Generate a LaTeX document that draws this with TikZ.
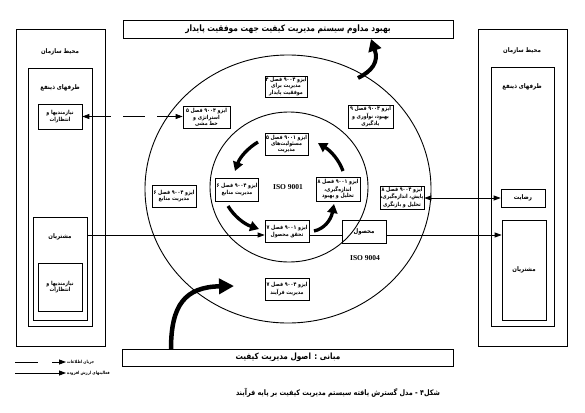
\documentclass[tikz,border=0pt]{standalone}
\usepackage{fontspec}
\setmainfont{Liberation Serif}
\newfontfamily\fafont[Script=Arabic, FakeStretch=0.85]{DejaVu Sans}
\TeXXeTstate=1
\usetikzlibrary{arrows.meta,shapes.geometric}
\newcommand\fat[1]{{\fafont\bfseries\beginR #1\endR}}
\begin{document}
\begin{tikzpicture}[x=1pt,y=-1pt,
 box/.style={draw, line width=0.7pt, inner sep=0pt, align=center, font=\fontsize{5.6}{6.3}\selectfont},
 frame/.style={draw, line width=0.9pt, inner sep=0pt},
 lbl/.style={inner sep=0pt, font=\fontsize{6.4}{7.5}\selectfont},
 flow/.style={line width=0.8pt, -{Triangle[length=7pt,width=5pt]}},
 cyc/.style={line width=3.3pt, -{Triangle[length=9pt,width=10pt]}},
 ring/.style={draw, ellipse, line width=0.9pt, inner sep=0pt},
]
\useasboundingbox (0,0) rectangle (585,412);
\fill[white] (0,0) rectangle (585,412);

% rings
\node[ring, minimum width=286pt, minimum height=268pt] (outerE) at (288,189) {};
\node[ring, minimum width=158pt, minimum height=150pt] (innerE) at (289,187) {};

% left side
\node[frame, minimum width=89pt, minimum height=317pt] (leftOuter) at (60.5,187.5) {};
\node[frame, minimum width=64pt, minimum height=258pt] (leftInner) at (60,197) {};
\node[lbl] (leftOuterT) at (60,52) {\fat{محیط سازمان}};
\node[lbl] (leftInnerT) at (60,88) {\fat{طرفهای ذینفع}};
\node[box, minimum width=44pt, minimum height=25pt] (leftNeeds1) at (60,116.5) {\fat{نیازمندیها و}\\\fat{انتظارات}};
\node[frame, minimum width=54pt, minimum height=103pt] (leftCust) at (60,268.5) {};
\node[lbl] (leftCustT) at (60,237) {\fat{مشتریان}};
\node[box, minimum width=44pt, minimum height=48pt] (leftNeeds2) at (60,287) {\fat{نیازمندیها و}\\\fat{انتظارات}};

% right side
\node[frame, minimum width=89pt, minimum height=317pt] (rightOuter) at (522.5,187.5) {};
\node[frame, minimum width=63pt, minimum height=259pt] (rightInner) at (522.5,196.5) {};
\node[lbl] (rightOuterT) at (522,51) {\fat{محیط سازمان}};
\node[lbl] (rightInnerT) at (522,87) {\fat{طرفهای ذینفع}};
\node[box, minimum width=44pt, minimum height=18pt, font=\fontsize{6.4}{7.5}\selectfont] (rightSat) at (523,198) {\fat{رضایت}};
\node[box, minimum width=44pt, minimum height=100pt, font=\fontsize{6.4}{7.5}\selectfont] (rightCust) at (524,270) {\fat{مشتریان}};

% top and bottom bars
\node[frame, minimum width=330pt, minimum height=18pt, font=\fontsize{8.8}{10}\selectfont] (topBox) at (288,29) {\fat{بهبود مداوم سیستم مدیریت کیفیت جهت موفقیت پایدار}};
\node[frame, minimum width=331pt, minimum height=17pt, font=\fontsize{8.6}{10}\selectfont] (bottomBox) at (288,357.5) {\fat{مبانی : اصول مدیریت کیفیت}};

% chapter boxes
\node[box, minimum width=42pt, minimum height=21pt] (ch4) at (286,86.5) {\fat{ایزو ۹۰۰۴ فصل ۴}\\\fat{مدیریت برای}\\\fat{موفقیت پایدار}};
\node[box, minimum width=47pt, minimum height=22pt] (s5) at (206.5,117.5) {\fat{ایزو ۹۰۰۴ فصل ۵}\\\fat{استراتژی و}\\\fat{خط مشی}};
\node[box, minimum width=45pt, minimum height=23pt] (s9) at (370.5,116.5) {\fat{ایزو ۹۰۰۴ فصل ۹}\\\fat{بهبود، نوآوری و}\\\fat{یادگیری}};
\node[box, minimum width=43pt, minimum height=22pt] (q5) at (286.5,144) {\fat{ایزو ۹۰۰۱ فصل ۵}\\\fat{مسئولیت‌های}\\\fat{مدیریت}};
\node[box, minimum width=44pt, minimum height=22pt] (s6o) at (174,196) {\fat{ایزو ۹۰۰۴ فصل ۶}\\\fat{مدیریت منابع}};
\node[box, minimum width=43pt, minimum height=23pt] (s6i) at (237,189.5) {\fat{ایزو ۹۰۰۴ فصل ۶}\\\fat{مدیریت منابع}};
\node[box, minimum width=44pt, minimum height=22pt] (q7) at (287,231.5) {\fat{ایزو ۹۰۰۱ فصل ۷}\\\fat{تحقق محصول}};
\node[box, minimum width=44pt, minimum height=24pt] (q8) at (338,189) {\fat{ایزو ۹۰۰۱ فصل ۸}\\\fat{اندازه‌گیری،}\\\fat{تحلیل و بهبود}};
\node[box, minimum width=44pt, minimum height=23pt] (s8) at (402,197.5) {\fat{ایزو ۹۰۰۴ فصل ۸}\\\fat{پایش، اندازه‌گیری،}\\\fat{تحلیل و بازنگری}};
\node[box, minimum width=44pt, minimum height=22pt] (s7) at (287,289) {\fat{ایزو ۹۰۰۴ فصل ۷}\\\fat{مدیریت فرآیند}};
\node[box, minimum width=44pt, minimum height=23pt, font=\fontsize{6.4}{7.5}\selectfont] (product) at (364,231.5) {\fat{محصول}};

% ISO labels
\node[inner sep=0pt, font=\bfseries\fontsize{7.5}{9}\selectfont] (iso1) at (288,187) {ISO 9001};
\node[inner sep=0pt, font=\bfseries\fontsize{7.5}{9}\selectfont] (iso4) at (365,258) {ISO 9004};

% flows
\coordinate (flowY) at (0,235);
\draw[flow] (leftCust.east |- flowY) -- (q7.west |- flowY);
\draw[line width=0.8pt] (q7.east |- flowY) -- (product.west |- flowY);
\draw[flow] (product.east |- flowY) -- (rightCust.west |- flowY);
\draw[line width=0.8pt, {Triangle[length=7pt,width=5pt]}-{Triangle[length=7pt,width=5pt]}] (s8.east |- rightSat.west) -- (rightSat.west);
\draw[line width=0.8pt, dash pattern=on 22pt off 12pt, {Triangle[length=7pt,width=5pt]}-{Triangle[length=7pt,width=5pt]}] (leftNeeds1.east) -- (s5.west |- leftNeeds1.east);

% PDCA cycle arrows
\draw[cyc] (258,142) .. controls (248,148) and (240,157) .. (235,171);
\draw[cyc] (228,206) .. controls (234,216) and (244,224) .. (259,229);
\draw[cyc] (314,231) .. controls (324,229) and (331,220) .. (334,204);
\draw[cyc] (343,171) .. controls (339,160) and (331,151) .. (318,143);

% big arrows
\draw[line width=4.5pt, -{Triangle[length=15pt,width=15pt]}] (171,349) .. controls (171,305) and (185,287) .. (234,286);
\draw[line width=4pt, -{Triangle[length=12pt,width=13pt]}] (358,78) .. controls (372,71) and (379,62) .. (371,39);

% legend
\coordinate (lg1a) at (15,362);
\coordinate (lg2a) at (15,373);
\node[anchor=west, inner sep=1pt, font=\fontsize{4.3}{5}\selectfont] (lg1t) at (66,362) {\fat{جریان اطلاعات}};
\node[anchor=west, inner sep=1pt, font=\fontsize{4.3}{5}\selectfont] (lg2t) at (66,373) {\fat{فعالیتهای ارزش افزوده}};
\draw[line width=0.8pt, dash pattern=on 23pt off 14pt, -{Triangle[length=7pt,width=5pt]}] (lg1a) -- (lg1t.west);
\draw[flow] (lg2a) -- (lg2t.west);

% caption
\node[inner sep=0pt, font=\fontsize{7.6}{9}\selectfont] (cap) at (338,393) {\fat{شکل۴ - مدل گسترش یافته سیستم مدیریت کیفیت بر پایه فرآیند}};
\end{tikzpicture}
\end{document}
